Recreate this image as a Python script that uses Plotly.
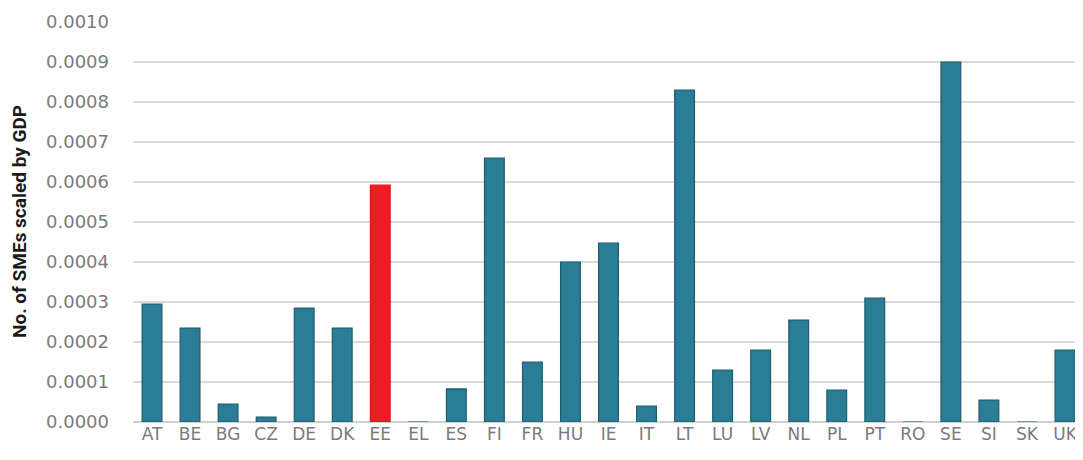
import plotly.graph_objects as go

countries = ["AT", "BE", "BG", "CZ", "DE", "DK", "EE", "EL", "ES", "FI", "FR", "HU", "IE",
             "IT", "LT", "LU", "LV", "NL", "PL", "PT", "RO", "SE", "SI", "SK", "UK"]
smes_by_gdp = [0.000295, 0.000235, 0.000045, 0.000012, 0.000285, 0.000235, 0.000592, 0.0,
               0.000083, 0.00066, 0.00015, 0.0004, 0.000447, 0.00004, 0.00083, 0.00013,
               0.00018, 0.000255, 0.00008, 0.00031, 0.0, 0.0009, 0.000055, 0.0, 0.00018]
highlight = "EE"

teal = "#2B7D95"
red = "#EC1C24"
colors = [red if c == highlight else teal for c in countries]
lines = ["#E8141B" if c == highlight else "#1D5D70" for c in countries]

W, H = 1076, 452
L, R, T, B = 125, 0, 14, 38
plot_w = W - L - R

fig = go.Figure()
fig.add_trace(go.Bar(
    x=countries, y=smes_by_gdp,
    marker=dict(color=colors, line=dict(color=lines, width=1.2)),
    width=0.52,
))

fig.update_layout(
    width=W, height=H,
    margin=dict(l=L, r=R, t=T, b=B),
    plot_bgcolor="white", paper_bgcolor="white",
    showlegend=False,
    font=dict(family="DejaVu Sans, sans-serif", color="#7a7a7a", size=17),
    xaxis=dict(showgrid=False, showline=False, ticks="",
               tickfont=dict(family="DejaVu Sans, sans-serif", size=17, color="#7a7a7a")),
    yaxis=dict(range=[0, 0.001], dtick=0.0001, tickformat=".4f",
               showgrid=True, gridcolor="#DADADA", gridwidth=1.5,
               zeroline=True, zerolinecolor="#D0D0D0", zerolinewidth=1.5,
               showline=False, ticks="", ticklabelstandoff=23,
               tickfont=dict(family="DejaVu Sans, sans-serif", size=18, color="#7a7a7a")),
    annotations=[dict(
        text="<b>No. of SMEs scaled by GDP</b>", textangle=-90,
        xref="paper", yref="paper", x=(11 - L) / plot_w, y=0.5,
        xanchor="center", yanchor="middle", showarrow=False,
        font=dict(family="Roboto, sans-serif", size=19, color="#1a1a1a"),
    )],
)

fig.write_html("out.html")
